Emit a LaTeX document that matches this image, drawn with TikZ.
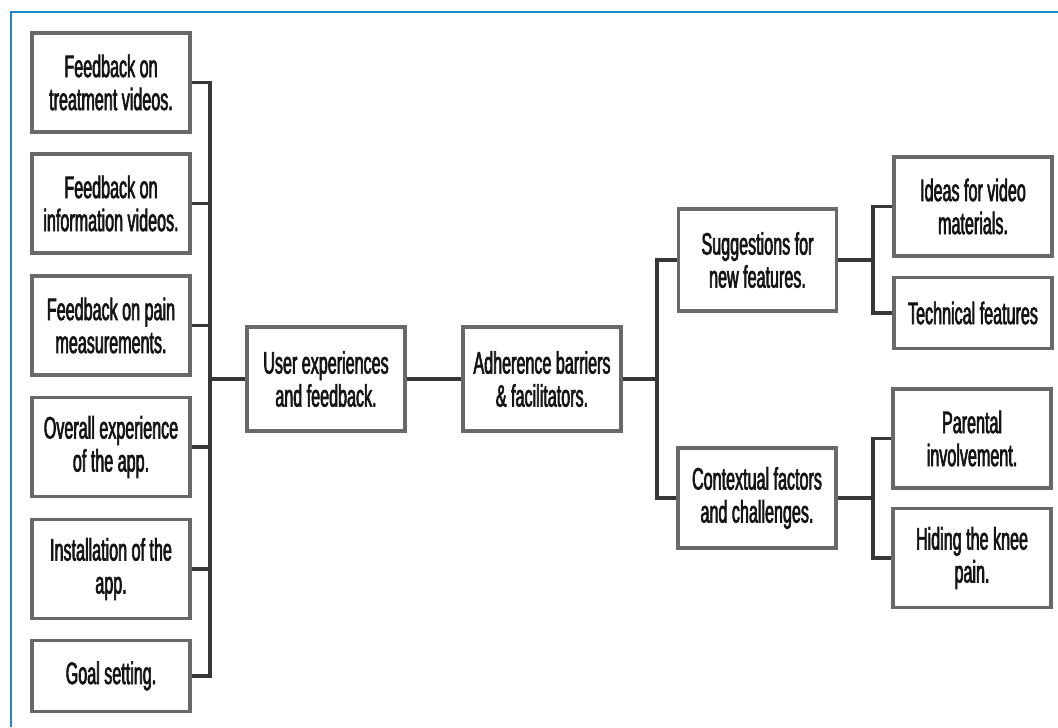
\documentclass[tikz,border=0pt]{standalone}
\usepackage{fontspec}
\setmainfont{Liberation Sans}[FakeStretch=0.52,FakeBold=2]
\usepackage{xcolor}
\usetikzlibrary{positioning}
\definecolor{frameblue}{RGB}{30,136,200}
\definecolor{boxgray}{RGB}{105,105,105}
\definecolor{linkgray}{RGB}{55,55,55}
\definecolor{textdark}{RGB}{20,20,20}

\begin{document}
\begin{tikzpicture}[x=0.5pt, y=-0.5pt,
  box/.style={draw=boxgray, line width=1.8pt, fill=white, align=center,
    minimum width=79pt, minimum height=49.5pt, inner sep=2pt,
    text=textdark, font=\fontsize{15.5}{16.5}\selectfont},
  low/.style={minimum height=35.5pt},
  link/.style={draw=linkgray, line width=1.6pt}]
\useasboundingbox (0,0) rectangle (1058,727);
\draw[frameblue, line width=1.3pt] (11,727) -- (11,12) -- (1058,12);
% left column
\node[box] (fbtreat) at (111,82.5) {Feedback on\\treatment videos.};
\node[box] (fbinfo) at (111,203.5) {Feedback on\\information videos.};
\node[box] (fbpain) at (111,325.5) {Feedback on pain\\measurements.};
\node[box] (overall) at (111,447) {Overall experience\\of the app.};
\node[box] (install) at (111,569) {Installation of the\\app.};
\node[box, low] (goal) at (111,676) {Goal setting.};
% middle
\node[box, minimum height=52pt] (user) at (326,379) {User experiences\\and feedback.};
\node[box, minimum height=52pt] (adher) at (542,379) {Adherence barriers\\\& facilitators.};
\node[box, minimum height=51pt] (suggest) at (757.5,260) {Suggestions for\\new features.};
\node[box, minimum height=50pt] (context) at (757,498) {Contextual factors\\and challenges.};
% right column
\node[box] (ideas) at (973,206.5) {Ideas for video\\materials.};
\node[box, low] (techn) at (973,313) {Technical features};
\node[box] (parent) at (972,438.5) {Parental\\involvement.};
\node[box] (hiding) at (972,558) {Hiding the knee\\pain.};
% buses
\coordinate (busL) at (210,379);
\coordinate (busM) at (657,379);
\coordinate (busA) at (873,260);
\coordinate (busB) at (873,498);
\foreach \n in {fbtreat,fbinfo,fbpain,overall,install,goal}
  \draw[link] (\n.east) -| (busL);
\draw[link] (busL) -- (user.west);
\draw[link] (user.east) -- (adher.west);
\draw[link] (adher.east) -- (busM);
\draw[link] (busM) |- (suggest.west);
\draw[link] (busM) |- (context.west);
\draw[link] (suggest.east) -- (busA);
\draw[link] (busA) |- (ideas.west);
\draw[link] (busA) |- (techn.west);
\draw[link] (context.east) -- (busB);
\draw[link] (busB) |- (parent.west);
\draw[link] (busB) |- (hiding.west);
\end{tikzpicture}
\end{document}
